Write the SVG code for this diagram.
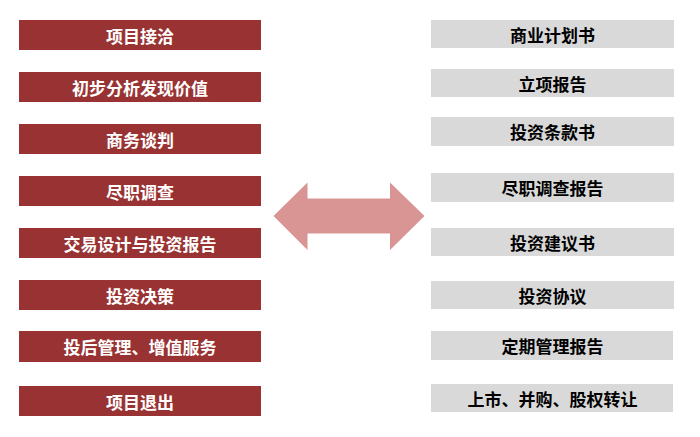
<svg xmlns="http://www.w3.org/2000/svg" width="700" height="437" viewBox="0 0 700 437">
<style>
.l rect{fill:#993333}
.r rect{fill:#D9D9D9}
text{font-family:"Noto Sans CJK SC","Liberation Sans",sans-serif;font-weight:bold;font-size:17px;text-anchor:middle;dominant-baseline:central}
.l text{fill:#FFFFFF}
.r text{fill:#000000}
</style>
<rect width="700" height="437" fill="#FFFFFF"/>
<g class="l">
<g id="L1"><rect x="19" y="20" width="242" height="30"/><text x="140" y="35">项目接洽</text></g>
<g id="L2"><rect x="19" y="72" width="242" height="30"/><text x="140" y="87">初步分析发现价值</text></g>
<g id="L3"><rect x="19" y="124" width="242" height="30"/><text x="140" y="139">商务谈判</text></g>
<g id="L4"><rect x="19" y="176" width="242" height="30"/><text x="140" y="191">尽职调查</text></g>
<g id="L5"><rect x="19" y="228" width="242" height="30"/><text x="140" y="243">交易设计与投资报告</text></g>
<g id="L6"><rect x="19" y="280" width="242" height="30"/><text x="140" y="295">投资决策</text></g>
<g id="L7"><rect x="19" y="331" width="242" height="31"/><text x="140" y="346.5">投后管理、增值服务</text></g>
<g id="L8"><rect x="19" y="386" width="242" height="30"/><text x="140" y="401">项目退出</text></g>
</g>
<g class="r">
<g id="R1"><rect x="431" y="20" width="243" height="28"/><text x="552.5" y="34">商业计划书</text></g>
<g id="R2"><rect x="431" y="69" width="243" height="28"/><text x="552.5" y="83">立项报告</text></g>
<g id="R3"><rect x="431" y="117" width="243" height="29"/><text x="552.5" y="131.5">投资条款书</text></g>
<g id="R4"><rect x="431" y="173" width="243" height="29"/><text x="552.5" y="187.5">尽职调查报告</text></g>
<g id="R5"><rect x="431" y="228" width="243" height="28"/><text x="552.5" y="242">投资建议书</text></g>
<g id="R6"><rect x="431" y="281" width="243" height="28"/><text x="552.5" y="295">投资协议</text></g>
<g id="R7"><rect x="431" y="331" width="242" height="29"/><text x="552.5" y="345.5">定期管理报告</text></g>
<g id="R8"><rect x="431" y="384" width="242" height="28"/><text x="552.5" y="398">上市、并购、股权转让</text></g>
</g>
<g id="connectors">
<polygon points="273.5,216 307.5,182.5 307.5,198.5 390,198.5 390,182.5 424.5,216 390,250 390,233.5 307.5,233.5 307.5,250" fill="#D99594"/>
</g>
</svg>
